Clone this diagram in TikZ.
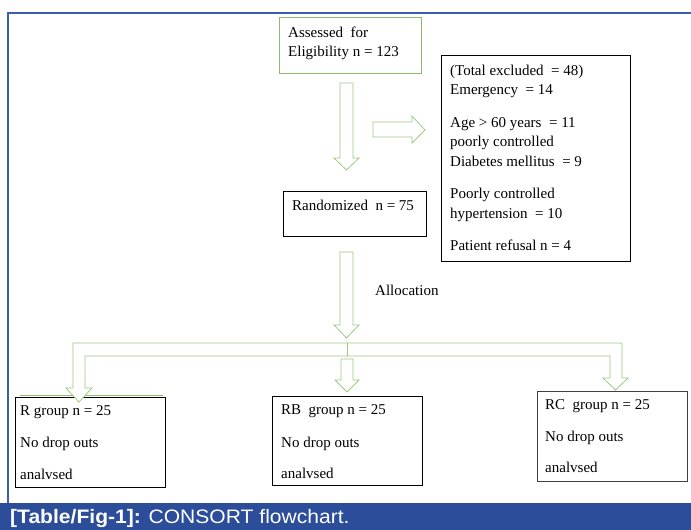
\documentclass[tikz,border=0pt]{standalone}
\usepackage{fontspec}
\setmainfont{Liberation Serif}
\newfontfamily\capfont{Liberation Sans}
\definecolor{frameblue}{HTML}{3A5FAE}
\definecolor{barblue}{HTML}{2B4D9A}
\definecolor{arrgreen}{HTML}{9CCB82}
\definecolor{boxgreen}{HTML}{8DBA6C}
\begin{document}
\begin{tikzpicture}[x=1pt,y=-1pt,
  box/.style={draw=black,line width=0.9pt,inner sep=0pt,anchor=north west},
  gbox/.style={draw=boxgreen,line width=0.9pt,inner sep=0pt,anchor=north west},
  txt/.style={anchor=base west,inner sep=0pt,font=\fontsize{15}{18}\selectfont},
  barrow/.style={draw=arrgreen,line width=0.8pt,fill=white,line join=miter}]
\useasboundingbox (0,0) rectangle (691,530);
\fill[white] (0,0) rectangle (691,530);
% frame
\draw[frameblue,line width=2pt] (8,503) -- (8,13) -- (691,13);
\fill[barblue] (0,503) rectangle (691,530);
\node[anchor=base west,inner sep=0pt,text=white,font=\capfont\fontsize{19.5}{21}\selectfont,xscale=1.08] (cap) at (10,523.5) {\textbf{[Table/Fig-1]:} CONSORT flowchart.};
% boxes
\node[gbox,minimum width=142pt,minimum height=56pt] (assess) at (279,17) {};
\node[box,minimum width=143pt,minimum height=45pt] (rand) at (283,191) {};
\node[box,minimum width=189pt,minimum height=206pt] (excl) at (441,55) {};
\draw[boxgreen,line width=0.9pt] (20,395) -- (163,395);
\node[box,minimum width=150pt,minimum height=90pt] (rg) at (15,397) {};
\node[box,minimum width=150pt,minimum height=89pt] (rbg) at (272,396) {};
\node[box,draw=black!75,minimum width=150pt,minimum height=90pt] (rcg) at (537,391) {};
% texts
\node[txt] (t1) at (288,37) {Assessed\ \ for};
\node[txt] (t2) at (288,56) {Eligibility n = 123};
\node[txt] (t3) at (292,210) {Randomized\ \ n = 75};
\node[txt] (e1) at (450,75) {(Total excluded\ \ = 48)};
\node[txt] (e2) at (450,94) {Emergency\ \ = 14};
\node[txt] (e3) at (450,127) {Age > 60 years\ \ = 11};
\node[txt] (e4) at (450,146) {poorly controlled};
\node[txt] (e5) at (450,166) {Diabetes mellitus\ \ = 9};
\node[txt] (e6) at (450,198) {Poorly controlled};
\node[txt] (e7) at (450,218) {hypertension\ \ = 10};
\node[txt] (e8) at (450,250) {Patient refusal n = 4};
\node[txt] (alloc) at (375,295) {Allocation};
\node[txt] (r1) at (20,415) {R group n = 25};
\node[txt] (r2) at (20,447) {No drop outs};
\node[txt] (r3) at (20,479) {analvsed};
\node[txt] (b1) at (281,414) {RB\ \ group n = 25};
\node[txt] (b2) at (281,447) {No drop outs};
\node[txt] (b3) at (281,478) {analvsed};
\node[txt] (c1) at (545,409) {RC\ \ group n = 25};
\node[txt] (c2) at (545,441) {No drop outs};
\node[txt] (c3) at (545,472) {analvsed};
% block arrows
\draw[barrow] (340,83) -- (353,83) -- (353,158) -- (359,158) -- (346.5,170) -- (334,158) -- (340,158) -- cycle;
\draw[barrow] (373,122) -- (412,122) -- (412,116) -- (425,130) -- (412,143) -- (412,137) -- (373,137) -- cycle;
\draw[barrow] (340,252) -- (353,252) -- (353,325) -- (359,325) -- (346.5,338) -- (334,325) -- (340,325) -- cycle;
\draw[barrow] (73,388) -- (73,343) -- (622,343) -- (622,378) -- (628,378) -- (615.5,390) -- (603,378) -- (610,378) -- (610,356) -- (85,356) -- (85,388) -- (92,388) -- (79,402) -- (66,388) -- cycle;
\draw[arrgreen,line width=0.8pt] (347,343) -- (347,356);
\draw[barrow] (341,359) -- (353,359) -- (353,380) -- (359,380) -- (347,392) -- (335,380) -- (341,380) -- cycle;
\end{tikzpicture}
\end{document}
